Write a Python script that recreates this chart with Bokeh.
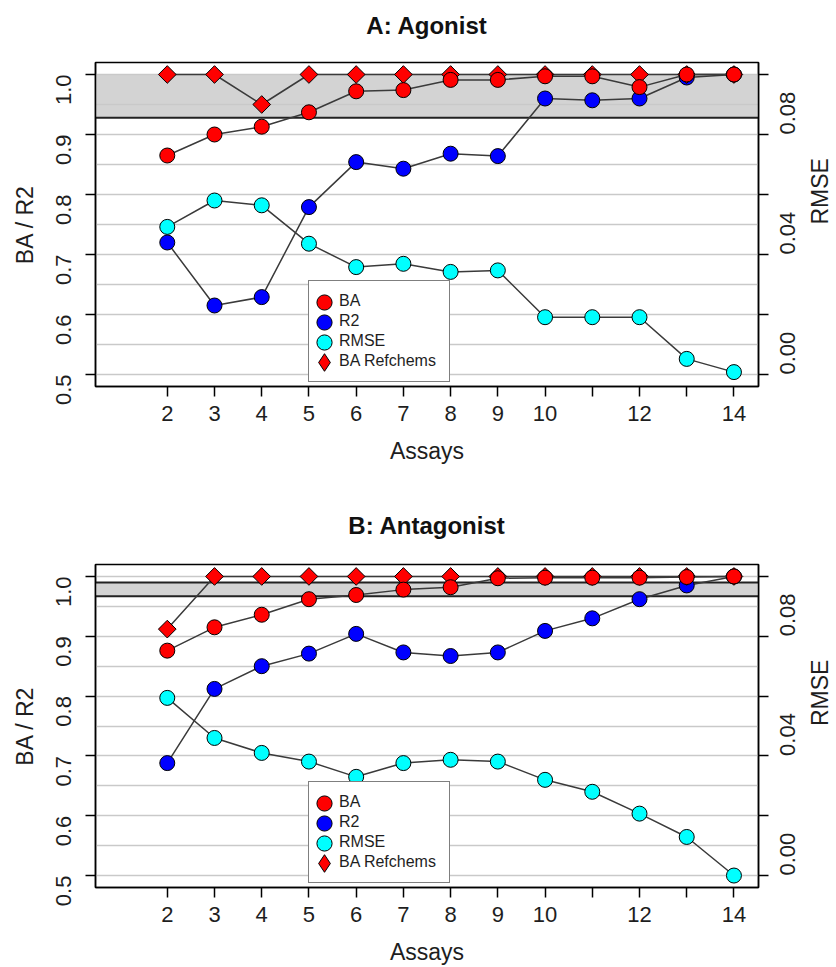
import numpy as np
from bokeh.plotting import figure
from bokeh.models import (Range1d, LinearAxis, FixedTicker, BoxAnnotation, Span,
                          Legend, LegendItem, PrintfTickFormatter, Title)
from bokeh.layouts import column
from bokeh.embed import file_html
from bokeh.resources import INLINE

# ---------------- data ----------------
assays = [2, 3, 4, 5, 6, 7, 8, 9, 10, 11, 12, 13, 14]
x_tick_hidden = [11, 13]

ago_ba = [0.865, 0.900, 0.913, 0.937, 0.972, 0.974, 0.991, 0.991, 0.997, 0.997, 0.979, 1.000, 1.000]
ago_r2 = [0.720, 0.615, 0.629, 0.779, 0.854, 0.843, 0.868, 0.864, 0.960, 0.957, 0.960, 0.995, 1.000]
ago_rmse = [0.0492, 0.0580, 0.0564, 0.0436, 0.0358, 0.0369, 0.0342, 0.0347, 0.0191, 0.0191, 0.0191, 0.0052, 0.0008]
ago_ref = [1.000, 1.000, 0.950, 1.000, 1.000, 1.000, 1.000, 1.000, 1.000, 1.000, 1.000, 1.000, 1.000]
ago_band = [0.928, 1.000]
ago_band_edges = [0.928]

ant_ba = [0.876, 0.915, 0.936, 0.962, 0.969, 0.978, 0.982, 0.997, 0.998, 0.998, 0.998, 0.999, 1.000]
ant_r2 = [0.688, 0.812, 0.850, 0.871, 0.904, 0.873, 0.867, 0.873, 0.909, 0.930, 0.962, 0.985, 1.000]
ant_rmse = [0.0594, 0.0460, 0.0410, 0.0381, 0.0330, 0.0376, 0.0387, 0.0381, 0.0320, 0.0280, 0.0207, 0.0129, 0.0000]
ant_ref = [0.912, 1.000, 1.000, 1.000, 1.000, 1.000, 1.000, 1.000, 1.000, 1.000, 1.000, 1.000, 1.000]
ant_band = [0.967, 0.990]
ant_band_edges = [0.967, 0.990]

legend_labels = ["BA", "R2", "RMSE", "BA Refchems"]

left_ticks = [0.5, 0.6, 0.7, 0.8, 0.9, 1.0]
grid_ticks = [0.5, 0.55, 0.6, 0.65, 0.7, 0.75, 0.8, 0.85, 0.9, 0.95, 1.0]
right_ticks = [0.0, 0.02, 0.04, 0.06, 0.08, 0.1]
right_hidden = [0.02, 0.06, 0.1]

FONT = "Liberation Sans"
LINE_COL = "#3a3a3a"
TXT = "#1e1e1e"
FRAME_W = 663


def make_panel(title, ba, r2, rmse, ref, band, band_edges, border_top, border_bottom,
               frame_h, title_gap):
    p = figure(frame_width=FRAME_W, frame_height=frame_h,
               min_border_left=95, min_border_right=76,
               min_border_top=border_top, min_border_bottom=border_bottom,
               x_range=Range1d(0.48, 14.52), y_range=Range1d(0.48, 1.02),
               output_backend="svg", toolbar_location=None,
               background_fill_color="white", border_fill_color="white")
    p.extra_y_ranges = {"rmse": Range1d((0.48 - 0.5) / 5, (1.02 - 0.5) / 5)}

    # title: a blank spacer panel next to the frame, then the real title above it
    p.title.text = ""
    p.add_layout(Title(text=" ", text_font=FONT, text_font_size="10px", standoff=title_gap,
                       align="center"), "above")
    p.add_layout(Title(text=title, align="center", text_font=FONT, text_font_size="24px",
                       text_font_style="bold", text_color="#111111", standoff=0), "above")

    p.outline_line_color = "black"
    p.outline_line_width = 1.5
    p.outline_line_alpha = 1.0

    # band
    p.add_layout(BoxAnnotation(bottom=band[0], top=band[1], fill_color="#d3d3d3",
                               fill_alpha=1.0, line_color=None, level="image"))
    for e in band_edges:
        p.add_layout(Span(location=e, dimension="width", line_color="#222222",
                          line_width=2, level="underlay"))

    # grid
    p.xgrid.visible = False
    p.ygrid.ticker = FixedTicker(ticks=grid_ticks)
    p.ygrid.grid_line_color = "#c9c9c9"
    p.ygrid.grid_line_width = 1.5

    def style_axis(ax):
        ax.major_tick_out = 10
        ax.major_tick_in = 0
        ax.minor_tick_out = 0
        ax.minor_tick_in = 0
        ax.major_tick_line_color = "black"
        ax.major_tick_line_width = 1.5
        ax.axis_line_color = "black"
        ax.axis_line_width = 1.5
        ax.major_label_text_font = FONT
        ax.major_label_text_font_size = "22px"
        ax.major_label_text_color = TXT
        ax.axis_label_text_font = FONT
        ax.axis_label_text_font_size = "23px"
        ax.axis_label_text_font_style = "normal"
        ax.axis_label_text_color = TXT

    xa = p.xaxis[0]
    style_axis(xa)
    xa.ticker = FixedTicker(ticks=assays)
    xa.major_label_overrides = {t: "" for t in x_tick_hidden}
    xa.axis_label = "Assays"
    xa.major_label_standoff = 9
    xa.axis_label_standoff = 14

    ya = p.yaxis[0]
    style_axis(ya)
    ya.ticker = FixedTicker(ticks=left_ticks)
    ya.formatter = PrintfTickFormatter(format="%.1f")
    ya.major_label_orientation = np.pi / 2
    ya.axis_label = "BA / R2"
    ya.major_label_standoff = 22
    ya.axis_label_standoff = 8

    ra = LinearAxis(y_range_name="rmse", axis_label="RMSE")
    style_axis(ra)
    ra.ticker = FixedTicker(ticks=right_ticks)
    ra.formatter = PrintfTickFormatter(format="%.2f")
    ra.major_label_overrides = {t: "" for t in right_hidden}
    ra.major_label_orientation = np.pi / 2
    ra.axis_label_orientation = np.pi / 2
    ra.major_label_standoff = 19
    ra.axis_label_standoff = 14
    p.add_layout(ra, "right")

    # series
    p.line(assays, rmse, y_range_name="rmse", line_color=LINE_COL, line_width=1.5)
    r_rmse = p.scatter(assays, rmse, y_range_name="rmse", marker="circle", size=15,
                       fill_color="#00ffff", line_color="black", line_width=1)
    p.line(assays, r2, line_color=LINE_COL, line_width=1.5)
    r_r2 = p.scatter(assays, r2, marker="circle", size=15,
                     fill_color="#0000ff", line_color="black", line_width=1)
    p.line(assays, ref, line_color=LINE_COL, line_width=1.5)
    p.scatter(assays, ref, marker="square", angle=np.pi / 4, size=12.5,
              fill_color="#ff0000", line_color="black", line_width=1)
    r_ref_leg = p.scatter(assays, ref, marker="diamond", size=15, visible=False,
                          fill_color="#ff0000", line_color="black", line_width=1)
    p.line(assays, ba, line_color=LINE_COL, line_width=1.5)
    r_ba = p.scatter(assays, ba, marker="circle", size=15,
                     fill_color="#ff0000", line_color="black", line_width=1)
    r_blank = p.scatter(assays, ba, marker="circle", size=0,
                        fill_alpha=0, line_alpha=0)

    # legend box with labels (glyphs drawn by the overlay legends below)
    box = Legend(items=[LegendItem(label=lab, renderers=[r_blank]) for lab in legend_labels],
                 location=(213, 4), orientation="vertical",
                 padding=10, spacing=0, margin=0,
                 glyph_width=20, glyph_height=20,
                 label_standoff=0, label_width=100, label_height=20,
                 label_text_font=FONT, label_text_font_size="16px",
                 label_text_color=TXT,
                 border_line_color="black", border_line_width=1.5,
                 background_fill_color="white", background_fill_alpha=1.0)
    p.add_layout(box, "center")

    overlay = [(r_ba, 38, 84), (r_r2, 38, 64), (r_rmse, 38, 44), (r_ref_leg, 44, 24)]
    for rend, g, cy in overlay:
        lg = Legend(items=[LegendItem(label=" ", renderers=[rend])],
                    location=(229 - g / 2, cy - g / 2), orientation="vertical",
                    padding=0, spacing=0, margin=0,
                    glyph_width=g, glyph_height=g,
                    label_standoff=0, label_width=0, label_height=g,
                    label_text_font_size="1px",
                    border_line_color=None, background_fill_alpha=0.0)
        p.add_layout(lg, "center")
    return p


p1 = make_panel("A: Agonist", ago_ba, ago_r2, ago_rmse, ago_ref, ago_band, ago_band_edges,
                border_top=62, border_bottom=94, frame_h=324, title_gap=11)
p2 = make_panel("B: Antagonist", ant_ba, ant_r2, ant_rmse, ant_ref, ant_band, ant_band_edges,
                border_top=84, border_bottom=77, frame_h=323, title_gap=13)

layout = column(p1, p2, spacing=0)
open("out.html", "w").write(file_html(layout, INLINE))
